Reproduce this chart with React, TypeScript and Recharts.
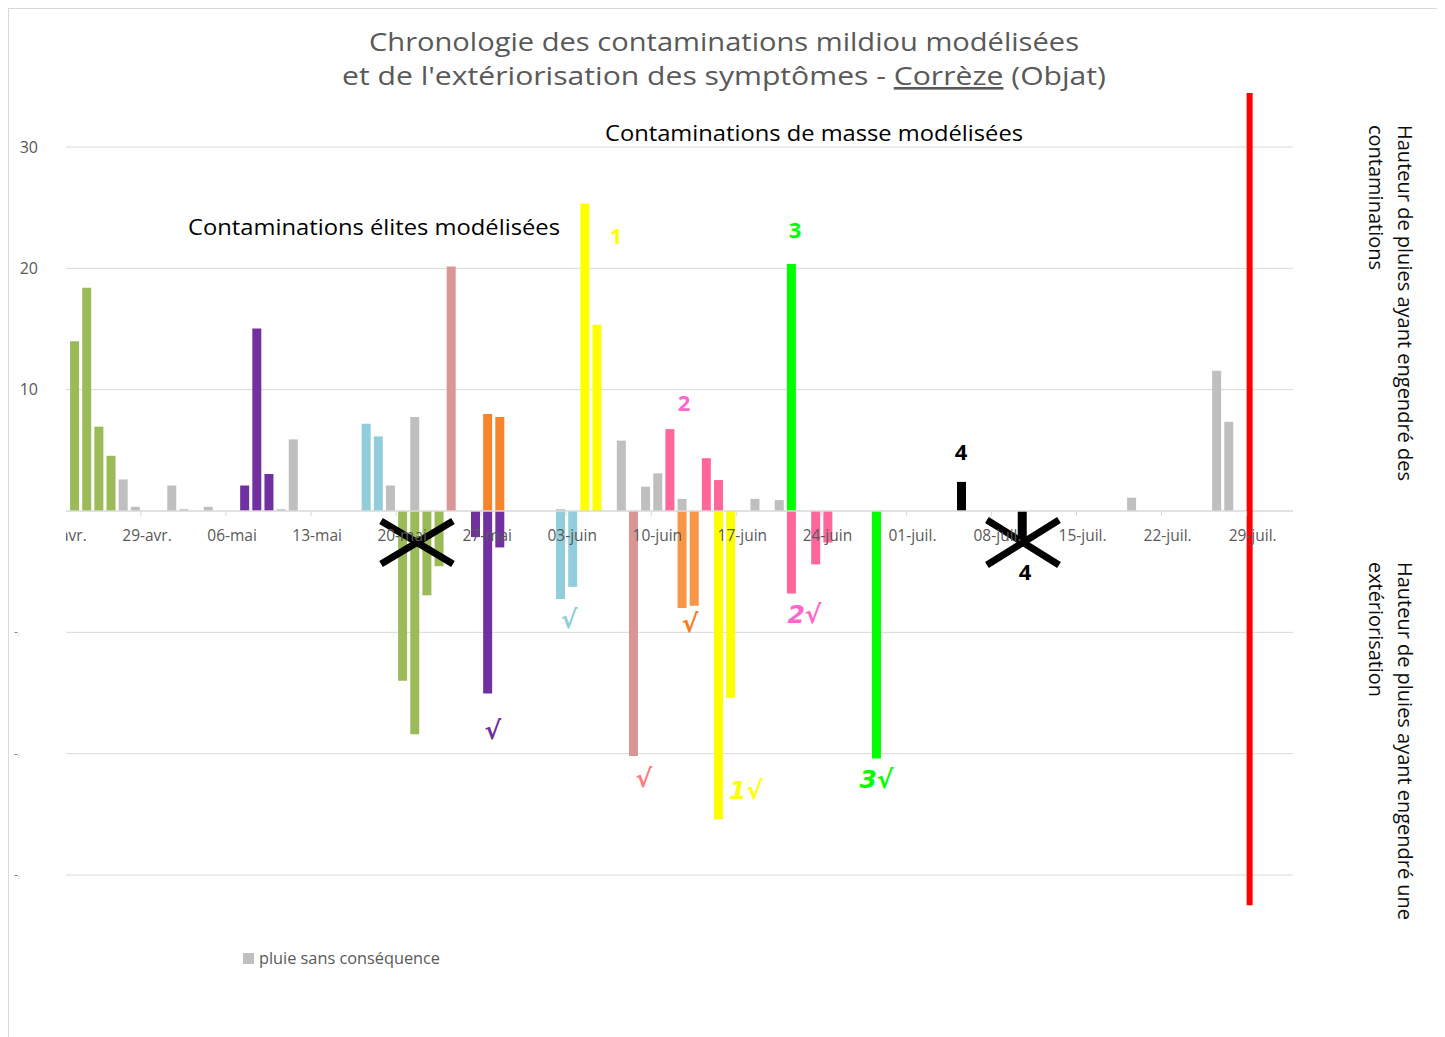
import { Bar, BarChart, CartesianGrid, ReferenceDot, ReferenceLine, XAxis, YAxis } from 'recharts'

// days are counted from 22-avr. (day 0)
const tickDays = [0, 7, 14, 21, 28, 35, 42, 49, 56, 63, 70, 77, 84, 91, 98]
const tickLabels = ['22-avr.', '29-avr.', '06-mai', '13-mai', '20-mai', '27-mai', '03-juin', '10-juin', '17-juin', '24-juin', '01-juil.', '08-juil.', '15-juil.', '22-juil.', '29-juil.']
const valueTicks = [-30, -20, -10, 10, 20, 30]

// [day, mm] — positive = contamination, negative = extériorisation
const pluieSansConsequence = [[5, 2.6], [6, 0.35], [9, 2.1], [10, 0.15], [12, 0.35], [18, 0.15], [19, 5.9], [27, 2.1], [29, 7.75], [41, 0.15], [46, 5.8], [48, 2.0], [49, 3.1], [51, 1.0], [57, 1.0], [59, 0.9], [88, 1.1], [95, 11.55], [96, 7.35]]
const eliteVert = [[1, 14.0], [2, 18.4], [3, 6.95], [4, 4.55], [28, -14.0], [29, -18.4], [30, -6.95], [31, -4.55]]
const elitePourpre = [[15, 2.1], [16, 15.05], [17, 3.05], [34, -2.15], [35, -15.05], [36, -3.0]]
const eliteBleu = [[25, 7.2], [26, 6.15], [41, -7.25], [42, -6.25]]
const masseSaumon = [[32, 20.15], [47, -20.2]]
const masseOrange = [[35, 8.0], [36, 7.75]]
const masseOrangeExt = [[51, -8.0], [52, -7.8]]
const masseJaune = [[43, 25.35], [44, 15.35], [54, -25.4], [55, -15.4]]
const masseRose = [[50, 6.75], [53, 4.35], [54, 2.55], [60, -6.8], [62, -4.4], [63, -2.6]]
const masseVert = [[60, 20.35], [67, -20.4]]
const masseNoir = [[74, 2.4], [79, -2.4]]

const series = [
	{ key: 'pluie', color: '#BFBFBF', points: pluieSansConsequence },
	{ key: 'eliteVert', color: '#9BBB59', points: eliteVert },
	{ key: 'elitePourpre', color: '#7030A0', points: elitePourpre },
	{ key: 'eliteBleu', color: '#92CDDC', points: eliteBleu },
	{ key: 'masseSaumon', color: '#DA9694', points: masseSaumon },
	{ key: 'masseOrange', color: '#F5842A', points: masseOrange },
	{ key: 'masseOrangeExt', color: '#F79646', points: masseOrangeExt },
	{ key: 'masseJaune', color: '#FFFF00', points: masseJaune },
	{ key: 'masseRose', color: '#FF6699', points: masseRose },
	{ key: 'masseVert', color: '#00FF00', points: masseVert },
	{ key: 'masseNoir', color: '#000000', points: masseNoir }
]

// labels placed at [day, mm]
const annotations = [
	{ day: 45.6, value: 22.75, text: '1', color: '#FFFF00', check: false },
	{ day: 60.33, value: 23.24, text: '3', color: '#00FF00', check: false },
	{ day: 51.19, value: 8.98, text: '2', color: '#FF66CC', check: false },
	{ day: 73.99, value: 4.95, text: '4', color: '#000000', check: false },
	{ day: 79.26, value: -4.95, text: '4', color: '#000000', check: false },
	{ day: 41.73, value: -8.98, text: '√', color: '#92CDDC', check: true },
	{ day: 51.69, value: -9.31, text: '√', color: '#F47C20', check: true },
	{ day: 61.11, value: -8.53, text: '2√', color: '#FF66CC', check: true },
	{ day: 35.47, value: -18.13, text: '√', color: '#7030A0', check: true },
	{ day: 47.9, value: -22.05, text: '√', color: '#FF7C80', check: true },
	{ day: 56.3, value: -23.04, text: '1√', color: '#FFFF00', check: true },
	{ day: 67.04, value: -22.09, text: '3√', color: '#00FF00', check: true }
]

// crossed-out periods
const crosses = [
	{ from: 26.26, to: 32.18, top: -0.82, bottom: -4.37 },
	{ from: 76.13, to: 82.06, top: -0.74, bottom: -4.45 }
]

const redLine = { day: 97.75, top: 34.45, bottom: -32.5 }

const dayMap = new Map<number, Record<string, number>>()
series.forEach((s) => {
	s.points.forEach(([day, value]) => {
		const row = dayMap.get(day) ?? { day }
		row[s.key] = value
		dayMap.set(day, row)
	})
})
const chartData = [...dayMap.values()]
	.sort((a, b) => a.day - b.day)
	.map((row) => {
		const full: Record<string, number> = { day: row.day }
		series.forEach((s) => (full[s.key] = row[s.key] ?? 0))
		return full
	})

const CHART_W = 1429
const CHART_H = 1028
const MARGIN = { top: 138, right: 145, left: 0, bottom: 132 }
const Y_AXIS_W = 57
const X_AXIS_H = 30
const PLOT_H = CHART_H - MARGIN.top - MARGIN.bottom - X_AXIS_H
const ZERO_Y = MARGIN.top + PLOT_H / 2
const X_DOMAIN: [number, number] = [0.33, 101.32]
const DAY_PX = (CHART_W - MARGIN.right - Y_AXIS_W) / (X_DOMAIN[1] - X_DOMAIN[0])
const FONT = '"Open Sans", sans-serif'

function DayTick(props: any) {
	const { x, payload } = props
	const i = tickDays.indexOf(payload.value)
	return (
		<g>
			{i === 0 && (
				<defs>
					<clipPath id='dayTickClip'>
						<rect x={Y_AXIS_W} y={0} width={CHART_W} height={CHART_H} />
					</clipPath>
				</defs>
			)}
			{i > 0 && (
				<line
					x1={x - DAY_PX / 2}
					x2={x - DAY_PX / 2}
					y1={ZERO_Y}
					y2={ZERO_Y + 5}
					stroke='#D9D9D9'
				/>
			)}
			<text
				x={x}
				y={ZERO_Y + 30}
				textAnchor='middle'
				fontSize={15.5}
				fill='#595959'
				fontFamily={FONT}
				clipPath='url(#dayTickClip)'
			>
				{tickLabels[i]}
			</text>
		</g>
	)
}

function ValueTick(props: any) {
	const { y, payload } = props
	if (payload.value < 0) {
		return (
			<text x={5} y={y + 4} fontSize={12} fill='#7F7F7F' fontFamily={FONT}>
				-<tspan fontSize={5}>:</tspan>
			</text>
		)
	}
	return (
		<text x={29} y={y + 5.5} textAnchor='end' fontSize={16} fill='#595959' fontFamily={FONT}>
			{payload.value}
		</text>
	)
}

function Overlay() {
	return (
		<svg
			width={CHART_W}
			height={CHART_H}
			style={{ position: 'absolute', left: 0, top: 0, pointerEvents: 'none' }}
		>
			<g transform='translate(-9,-9)' fontFamily={FONT}>
				<text x={724} y={51} textAnchor='middle' fontSize={26} fill='#595959' textLength={710} lengthAdjust='spacingAndGlyphs'>
					Chronologie des contaminations mildiou modélisées
				</text>
				<text x={724} y={85} textAnchor='middle' fontSize={26} fill='#595959' textLength={764} lengthAdjust='spacingAndGlyphs'>
					et de l'extériorisation des symptômes - <tspan textDecoration='underline'>Corrèze</tspan> (Objat)
				</text>
				<text x={605} y={141} fontSize={22} fill='#000' textLength={418} lengthAdjust='spacingAndGlyphs'>
					Contaminations de masse modélisées
				</text>
				<text x={188} y={235} fontSize={22} fill='#000' textLength={372} lengthAdjust='spacingAndGlyphs'>
					Contaminations élites modélisées
				</text>
				<text transform='translate(1398,125) rotate(90)' fontSize={20} fill='#0D0D0D' textLength={356} lengthAdjust='spacingAndGlyphs'>
					Hauteur de pluies ayant engendré des
				</text>
				<text transform='translate(1369,125) rotate(90)' fontSize={20} fill='#0D0D0D' textLength={145} lengthAdjust='spacingAndGlyphs'>
					contaminations
				</text>
				<text transform='translate(1398,562) rotate(90)' fontSize={20} fill='#0D0D0D' textLength={358} lengthAdjust='spacingAndGlyphs'>
					Hauteur de pluies ayant engendré une
				</text>
				<text transform='translate(1369,562) rotate(90)' fontSize={20} fill='#0D0D0D' textLength={135} lengthAdjust='spacingAndGlyphs'>
					extériorisation
				</text>
				<rect x={243} y={953} width={11} height={11} fill='#BFBFBF' />
				<text x={259} y={964} fontSize={16} fill='#595959' textLength={181} lengthAdjust='spacingAndGlyphs'>
					pluie sans conséquence
				</text>
			</g>
		</svg>
	)
}

export default function App() {
	return (
		<div
			style={{
				position: 'relative',
				width: CHART_W,
				height: CHART_H,
				border: '1px solid #D9D9D9',
				fontFamily: FONT
			}}
		>
			<BarChart
				width={CHART_W}
				height={CHART_H}
				data={chartData}
				margin={MARGIN}
				stackOffset='sign'
				barSize={9}
			>
				<CartesianGrid vertical={false} stroke='#D9D9D9' />
				<XAxis
					type='number'
					dataKey='day'
					domain={X_DOMAIN}
					allowDataOverflow
					ticks={tickDays}
					interval={0}
					axisLine={false}
					tickLine={false}
					height={X_AXIS_H}
					tick={DayTick}
				/>
				<YAxis
					type='number'
					domain={[-30, 30]}
					ticks={valueTicks}
					interval={0}
					width={Y_AXIS_W}
					axisLine={false}
					tickLine={false}
					tick={ValueTick}
				/>
				<ReferenceLine y={0} stroke='#D9D9D9' strokeWidth={1.5} />
				{series.map((s) => (
					<Bar
						key={s.key}
						dataKey={s.key}
						stackId='pluie'
						fill={s.color}
						isAnimationActive={false}
					/>
				))}
				{crosses.map((c, i) => [
					<ReferenceLine
						key={`c${i}a`}
						segment={[{ x: c.from, y: c.top }, { x: c.to, y: c.bottom }]}
						stroke='#000'
						strokeWidth={7}
						ifOverflow='visible'
					/>,
					<ReferenceLine
						key={`c${i}b`}
						segment={[{ x: c.from, y: c.bottom }, { x: c.to, y: c.top }]}
						stroke='#000'
						strokeWidth={7}
						ifOverflow='visible'
					/>
				])}
				<ReferenceLine
					segment={[{ x: redLine.day, y: redLine.top }, { x: redLine.day, y: redLine.bottom }]}
					stroke='#FF0000'
					strokeWidth={6}
					ifOverflow='visible'
				/>
				{annotations.map((a, i) => (
					<ReferenceDot
						key={`a${i}`}
						x={a.day}
						y={a.value}
						r={0}
						ifOverflow='visible'
						shape={(p: any) => (
							<text
								x={p.cx}
								y={p.cy}
								textAnchor='middle'
								dominantBaseline='central'
								fill={a.color}
								fontSize={a.check ? 25 : 22}
								fontWeight={700}
								fontStyle={a.check ? 'italic' : 'normal'}
								fontFamily={a.check ? '"DejaVu Sans", sans-serif' : FONT}
							>
								{a.text}
							</text>
						)}
					/>
				))}
			</BarChart>
			<Overlay />
		</div>
	)
}
